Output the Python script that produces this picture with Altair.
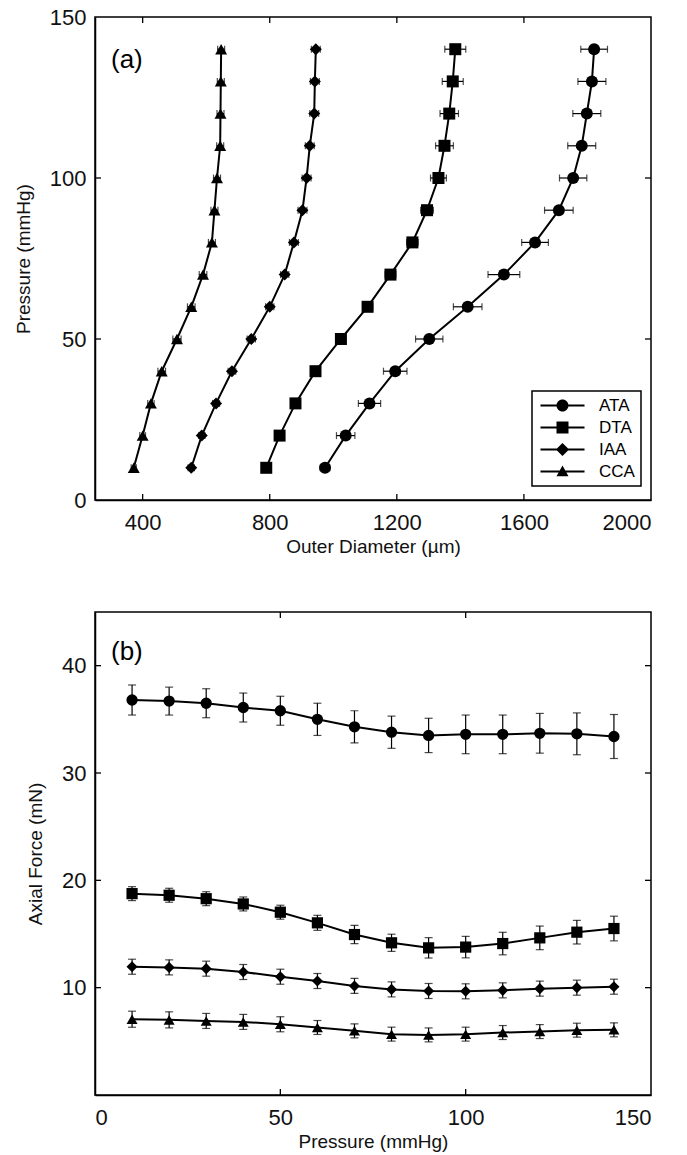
import altair as alt
import pandas as pd

FONT = "Liberation Sans"

series = ["ATA", "DTA", "IAA", "CCA"]
pressure = [10, 20, 30, 40, 50, 60, 70, 80, 90, 100, 110, 120, 130, 140]

# Panel (a): outer diameter (um) vs pressure
od_ata = [974, 1039, 1114, 1195, 1302, 1423, 1537, 1635, 1710, 1755, 1782, 1798, 1814, 1821]
od_ata_err = [15, 29, 35, 37, 43, 45, 50, 42, 45, 43, 44, 44, 44, 42]
od_dta = [789, 831, 881, 944, 1024, 1108, 1180, 1249, 1295, 1331, 1350, 1365, 1376, 1384]
od_dta_err = [12, 12, 13, 14, 15, 16, 17, 18, 20, 25, 28, 29, 33, 33]
od_iaa = [553, 586, 631, 681, 742, 800, 847, 876, 903, 916, 926, 940, 942, 945]
od_iaa_err = [10, 10, 11, 12, 13, 13, 13, 14, 14, 14, 14, 14, 14, 14]
od_cca = [372, 400, 426, 460, 508, 553, 590, 618, 626, 634, 644, 645, 646, 647]
od_cca_err = [8, 9, 10, 12, 13, 12, 12, 11, 11, 11, 11, 11, 11, 11]

# Panel (b): axial force (mN) vs pressure
af_ata = [36.8, 36.7, 36.5, 36.1, 35.8, 35.0, 34.3, 33.8, 33.5, 33.6, 33.6, 33.7, 33.65, 33.4]
af_ata_err = [1.4, 1.3, 1.35, 1.35, 1.35, 1.5, 1.5, 1.5, 1.6, 1.8, 1.8, 1.85, 1.95, 2.05]
af_dta = [18.76, 18.61, 18.29, 17.8, 17.03, 16.04, 14.95, 14.18, 13.71, 13.78, 14.11, 14.64, 15.17, 15.51]
af_dta_err = [0.65, 0.65, 0.65, 0.65, 0.65, 0.7, 0.85, 0.8, 0.95, 1.0, 1.05, 1.1, 1.1, 1.15]
af_iaa = [11.95, 11.89, 11.77, 11.46, 11.02, 10.62, 10.16, 9.84, 9.69, 9.66, 9.75, 9.91, 10.0, 10.09]
af_iaa_err = [0.7, 0.7, 0.7, 0.7, 0.7, 0.7, 0.7, 0.7, 0.7, 0.7, 0.7, 0.7, 0.7, 0.7]
af_cca = [7.06, 7.0, 6.9, 6.81, 6.59, 6.29, 5.98, 5.67, 5.6, 5.67, 5.82, 5.91, 6.04, 6.07]
af_cca_err = [0.75, 0.75, 0.7, 0.7, 0.7, 0.65, 0.65, 0.65, 0.65, 0.65, 0.65, 0.65, 0.65, 0.65]

a_x_ticks = [400, 800, 1200, 1600, 2000]
a_y_ticks = [0, 50, 100, 150]
b_x_ticks = [0, 50, 100, 150]
b_y_ticks = [10, 20, 30, 40]

W, H = 556, 483


def build(vals, errs):
    rows = []
    for s, v, e in zip(series, vals, errs):
        for p, vv, ee in zip(pressure, v, e):
            rows.append({"Series": s, "P": p, "V": vv, "lo": vv - ee, "hi": vv + ee})
    return pd.DataFrame(rows)


df_a = build([od_ata, od_dta, od_iaa, od_cca], [od_ata_err, od_dta_err, od_iaa_err, od_cca_err])
df_b = build([af_ata, af_dta, af_iaa, af_cca], [af_ata_err, af_dta_err, af_iaa_err, af_cca_err])

shape_scale = alt.Scale(domain=series, range=["circle", "square", "diamond", "triangle-up"])

# legend glyphs: a line through the marker (unit = 6 px)
LN = "M-3.67,-0.17L3.67,-0.17L3.67,0.17L-3.67,0.17Z "
legend_paths = [
    LN + "M-1,0 A1,1 0 1,1 1,0 A1,1 0 1,1 -1,0Z",
    LN + "M-1,-1L1,-1L1,1L-1,1Z",
    LN + "M0,-1.1L1.1,0L0,1.1L-1.1,0Z",
    LN + "M0,-1L1,0.8L-1,0.8Z",
]


def panel(df, xdom, ydom, xvals, yvals, xtitle, ytitle, label, sizes, horizontal_err, legend):
    xs = alt.Scale(domain=xdom, nice=False, zero=False)
    ys = alt.Scale(domain=ydom, nice=False, zero=False)
    xax = alt.Axis(values=xvals, title=xtitle, ticks=False, grid=False, format="d")
    yax = alt.Axis(values=yvals, title=ytitle, ticks=False, grid=False, format="d")
    base = alt.Chart(df)
    if horizontal_err:
        vx = alt.X("V:Q", scale=xs, axis=xax, title=xtitle)
        vy = alt.Y("P:Q", scale=ys, axis=yax, title=ytitle)
        rules = base.mark_rule(color="black", strokeWidth=1.2).encode(
            x=alt.X("lo:Q", scale=xs, axis=xax, title=xtitle), x2="hi:Q",
            y=alt.Y("P:Q", scale=ys, axis=yax, title=ytitle))
        caps = base.transform_fold(["lo", "hi"], as_=["end", "val"]).mark_tick(
            orient="vertical", color="black", thickness=1.2, size=7).encode(
            x=alt.X("val:Q", scale=xs, axis=xax, title=xtitle),
            y=alt.Y("P:Q", scale=ys, axis=yax, title=ytitle))
    else:
        vx = alt.X("P:Q", scale=xs, axis=xax, title=xtitle)
        vy = alt.Y("V:Q", scale=ys, axis=yax, title=ytitle)
        rules = base.mark_rule(color="black", strokeWidth=1.2).encode(
            y=alt.Y("lo:Q", scale=ys, axis=yax, title=ytitle), y2="hi:Q",
            x=alt.X("P:Q", scale=xs, axis=xax, title=xtitle))
        caps = base.transform_fold(["lo", "hi"], as_=["end", "val"]).mark_tick(
            orient="horizontal", color="black", thickness=1.2, size=8).encode(
            y=alt.Y("val:Q", scale=ys, axis=yax, title=ytitle),
            x=alt.X("P:Q", scale=xs, axis=xax, title=xtitle))

    line = base.mark_line(color="black", strokeWidth=2).encode(
        x=vx, y=vy, detail="Series:N", order="P:Q")
    pts = base.mark_point(filled=True, color="black", opacity=1).encode(
        x=vx, y=vy,
        shape=alt.Shape("Series:N", scale=shape_scale, legend=None),
        size=alt.Size("Series:N", scale=alt.Scale(domain=series, range=sizes), legend=None))

    tx = [v for v in xvals if xdom[0] < v < xdom[1]]
    ty = [v for v in yvals if ydom[0] < v < ydom[1]]
    dtx = pd.DataFrame({"t": tx})
    dty = pd.DataFrame({"t": ty})
    tick_x = alt.X("t:Q", scale=xs, axis=xax, title=xtitle)
    tick_y = alt.Y("t:Q", scale=ys, axis=yax, title=ytitle)
    tb = alt.Chart(dtx).mark_rule(color="black", strokeWidth=1.3).encode(
        x=tick_x, y=alt.value(H), y2=alt.value(H - 6))
    tt = alt.Chart(dtx).mark_rule(color="black", strokeWidth=1.3).encode(
        x=tick_x, y=alt.value(0), y2=alt.value(6))
    tl = alt.Chart(dty).mark_rule(color="black", strokeWidth=1.3).encode(
        y=tick_y, x=alt.value(0), x2=alt.value(6))
    tr = alt.Chart(dty).mark_rule(color="black", strokeWidth=1.3).encode(
        y=tick_y, x=alt.value(W), x2=alt.value(W - 6))

    lab = alt.Chart(pd.DataFrame({"t": [label[0]]})).mark_text(
        align="left", baseline="middle", fontSize=26, font=FONT, color="black").encode(
        text="t:N", x=alt.value(label[1]), y=alt.value(label[2]))

    layers = [rules, caps, line, pts, tb, tt, tl, tr, lab]
    if legend:
        leg = alt.Chart(df).transform_filter("false").mark_point(
            filled=True, color="black", opacity=1).encode(
            shape=alt.Shape("Series:N",
                            scale=alt.Scale(domain=series, range=legend_paths),
                            legend=alt.Legend(title=None, orient="none", legendX=437, legendY=374,
                                              symbolSize=144, symbolFillColor="black",
                                              symbolStrokeWidth=0, labelFontSize=17,
                                              labelFont=FONT, labelColor="black",
                                              labelOffset=28, padding=6, rowPadding=4,
                                              symbolOffset=16, strokeColor="black")))
        layers.append(leg)
    ch = alt.layer(*layers).properties(width=W, height=H)
    if legend:
        ch = ch.resolve_scale(shape="independent", size="independent")
    return ch


pa = panel(df_a, [250, 2000], [0, 150], a_x_ticks, a_y_ticks,
           "Outer Diameter (µm)", "Pressure (mmHg)", ("(a)", 16, 43),
           [144, 144, 169, 144], True, True)
pb = panel(df_b, [0, 150], [0, 45], b_x_ticks, b_y_ticks,
           "Pressure (mmHg)", "Axial Force (mN)", ("(b)", 16, 40),
           [128, 121, 169, 121], False, False)

chart = alt.vconcat(pa, pb, spacing=53).properties(
    padding={"left": 5, "top": -3, "right": 5, "bottom": 0}
).configure_view(stroke="black", strokeWidth=1.5).configure_axis(
    labelFont=FONT, titleFont=FONT, labelFontSize=22, titleFontSize=19,
    labelColor="#111", titleColor="#111", titleFontWeight="normal",
    domainColor="black", domainWidth=1.5, tickSize=0
).configure_axisX(labelPadding=12, titlePadding=4).configure_axisY(
    labelPadding=9, titlePadding=16
).configure_legend(strokeWidth=1.5)

chart.save("out.html", embed_options={"renderer": "svg", "actions": False})
